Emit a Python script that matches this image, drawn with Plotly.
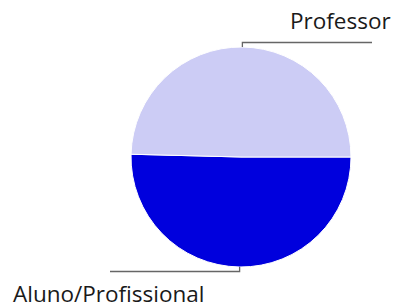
import math
import plotly.graph_objects as go

labels = ["Aluno/Profissional", "Professor"]
values = [50.4, 49.6]
colors = ["#0000DD", "#CCCCF5"]

W, H = 395, 308
cx, cy, r = 241, 157, 110  # pie centre / radius in px
dom_x = [(cx - r) / W, (cx + r) / W]
dom_y = [(H - cy - r) / H, (H - cy + r) / H]

fig = go.Figure(go.Pie(
    labels=labels, values=values, sort=False,
    direction="clockwise", rotation=90,
    marker=dict(colors=colors, line=dict(color="white", width=1)),
    textinfo="none", hoverinfo="label+percent", showlegend=False,
    domain=dict(x=dom_x, y=dom_y),
))

# leader lines computed from slice mid-angles (clockwise from 3 o'clock)
total = sum(values)
start = 0.0
shapes, annotations = [], []
cfg = {
    "Aluno/Profissional": dict(dy=4.5, ex=110, tx=11, ty=293, xa="left"),
    "Professor": dict(dy=-4.5, ex=372, tx=393, ty=20, xa="right"),
}
for lab, v in zip(labels, values):
    c = cfg[lab]
    mid = start + 360 * v / total / 2
    start += 360 * v / total
    px = cx + r * math.cos(math.radians(-mid))
    py = cy - r * math.sin(math.radians(-mid))
    ey = py + c["dy"]
    pts = [(px, py), (px, ey), (c["ex"], ey)]
    path = "M " + " L ".join(f"{x/W} {1 - y/H}" for x, y in pts)
    shapes.append(dict(type="path", xref="paper", yref="paper", path=path,
                       line=dict(color="#666666", width=1.3)))
    annotations.append(dict(text=lab, x=c["tx"] / W, y=1 - c["ty"] / H,
                            xref="paper", yref="paper", showarrow=False,
                            xanchor=c["xa"], yanchor="middle",
                            font=dict(family="Open Sans", size=22.5, color="#1a1a1a")))

fig.update_layout(width=W, height=H, margin=dict(l=0, r=0, t=0, b=0),
                  paper_bgcolor="white", plot_bgcolor="white",
                  shapes=shapes, annotations=annotations)
fig.write_html("out.html", config={"displayModeBar": False},
               post_script="document.body.style.margin='0';document.body.style.overflow='hidden';")
